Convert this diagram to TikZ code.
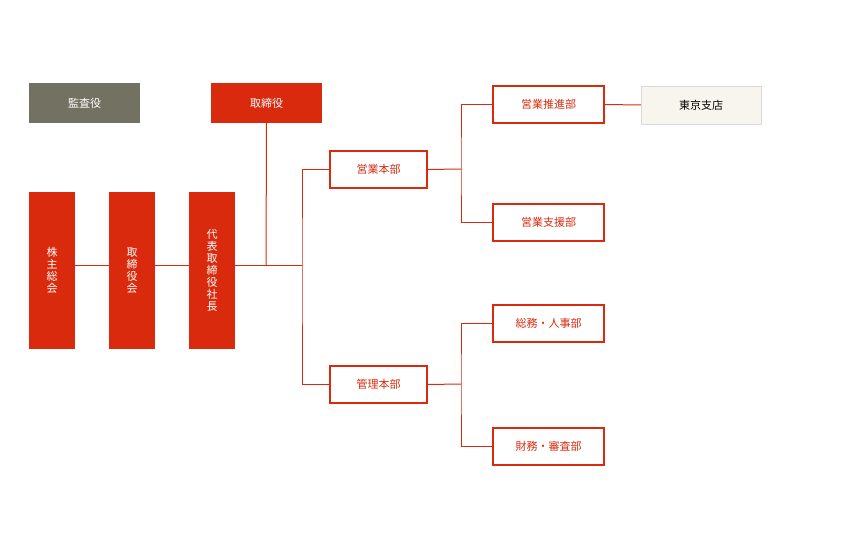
\documentclass[tikz,border=0pt]{standalone}
\usepackage{fontspec}
\newfontfamily\jp{Noto Sans CJK JP}
\usetikzlibrary{positioning}
\definecolor{orgred}{HTML}{D92A0E}
\definecolor{orggray}{HTML}{737262}
\definecolor{orgcream}{HTML}{F7F5EE}
\begin{document}
\begin{tikzpicture}
		[x=1pt,y=-1pt,font=\jp\fontsize{11}{13}\selectfont,
		topbox/.style={draw=none,fill=orgred,text=white,minimum width=111pt,minimum height=40pt,inner sep=0pt},
		tallbox/.style={draw=none,fill=orgred,text=white,minimum width=46pt,minimum height=157pt,inner sep=0pt,align=center,font=\jp\fontsize{11}{12}\selectfont},
		deptbox/.style={draw=orgred,line width=1.2pt,fill=white,text=orgred,minimum height=37pt,inner sep=0pt},
		link/.style={draw=orgred,line width=1pt}]
		\useasboundingbox (0,0) rectangle (860,540);
		
		\node[topbox,fill=orggray] (kansa) at (84.5,103) {監査役};
		\node[topbox] (torishimari) at (266.5,103) {取締役};
		
		\node[tallbox] (kabunushi) at (52,270.5) {株\\主\\総\\会};
		\node[tallbox] (board) at (132,270.5) {取\\締\\役\\会};
		\node[tallbox] (ceo) at (212,270.5) {代\\表\\取\\締\\役\\社\\長};
		
		\node[deptbox,minimum width=97pt] (eigyo) at (378.5,169.5) {営業本部};
		\node[deptbox,minimum width=97pt] (kanri) at (378.5,384.5) {管理本部};
		
		\node[deptbox,minimum width=111pt] (suishin) at (548.5,104.5) {営業推進部};
		\node[deptbox,minimum width=111pt] (shien) at (548.5,222.5) {営業支援部};
		\node[deptbox,minimum width=111pt] (somu) at (548.5,323.5) {総務・人事部};
		\node[deptbox,minimum width=111pt] (zaimu) at (548.5,446.5) {財務・審査部};
		
		\node[draw=black!15,fill=orgcream,minimum width=120pt,minimum height=38pt,inner sep=0pt] (tokyo) at (701,105) {東京支店};
		
		\coordinate (hub) at (266,266);
		\coordinate (split) at (302,266);
		\coordinate (esplit) at (461,169);
		\coordinate (ksplit) at (461,384);
		
		\draw[link] (kabunushi.east |- hub) -- (board.west |- hub);
		\draw[link] (board.east |- hub) -- (ceo.west |- hub);
		\draw[link] (ceo.east |- hub) -- (split);
		\draw[link] (torishimari.south) -- (hub);
		\draw[link] (eigyo.west) -| (split) |- (kanri.west);
		
		\draw[link] (eigyo.east) -- (esplit);
		\draw[link] (suishin.west) -| (esplit) |- (shien.west);
		\draw[link] (kanri.east) -- (ksplit);
		\draw[link] (somu.west) -| (ksplit) |- (zaimu.west);
		\draw[link] (suishin.east) -- (tokyo.west);
\end{tikzpicture}
\end{document}
